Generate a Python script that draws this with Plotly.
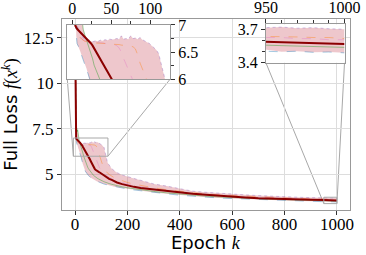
import numpy as np
import plotly.graph_objects as go

# ---------------- data ----------------
epochs = [0, 1, 2, 3, 4, 5, 6,
          8, 10, 12, 14, 16, 18, 20, 22, 24, 26, 28, 30,
          33, 36, 39, 42, 45, 48, 51, 54, 57, 60, 63, 66, 69, 72, 75, 78,
          81, 84, 87, 90, 93, 96, 99, 102, 105, 108, 111, 114, 117, 120, 123, 126,
          130, 140, 150, 160, 180, 200, 225, 250,
          300, 350, 400, 450, 500, 550, 600, 650, 700, 750, 800, 850, 900,
          950, 960, 970, 980, 990, 1000]

loss_run_blue = [13.05, 9.8, 8.2, 7.4, 7.0, 6.8, 6.66,
                 6.6, 6.52, 6.44, 6.37, 6.3, 6.21, 6.11, 6.02, 5.9, 5.77, 5.64, 5.53,
                 5.4, 5.28, 5.18, 5.1, 5.03, 4.98, 4.94, 4.9, 4.86, 4.82, 4.79, 4.76, 4.73, 4.7, 4.68, 4.66,
                 4.64, 4.62, 4.6, 4.58, 4.56, 4.55, 4.53, 4.52, 4.5, 4.49, 4.47, 4.46, 4.45, 4.43, 4.42, 4.41,
                 4.4, 4.36, 4.33, 4.3, 4.25, 4.2, 4.15, 4.1,
                 4.01, 3.94, 3.86, 3.8, 3.75, 3.71, 3.68, 3.65, 3.62, 3.6, 3.57, 3.55, 3.53,
                 3.51, 3.50, 3.505, 3.495, 3.498, 3.49]

loss_run_green = [13.05, 10.8, 9.2, 8.0, 7.6, 7.4, 7.55,
                  7.35, 7.45, 7.15, 6.92, 6.82, 6.74, 6.66, 6.58, 6.48, 6.38, 6.26, 6.16,
                  6.0, 5.85, 5.72, 5.6, 5.5, 5.4, 5.32, 5.25, 5.18, 5.12, 5.06, 5.01, 4.97, 4.93, 4.89, 4.86,
                  4.83, 4.8, 4.77, 4.75, 4.72, 4.7, 4.68, 4.66, 4.64, 4.62, 4.6, 4.58, 4.56, 4.55, 4.53, 4.52,
                  4.5, 4.46, 4.42, 4.38, 4.32, 4.27, 4.21, 4.17,
                  4.07, 3.99, 3.92, 3.86, 3.81, 3.77, 3.73, 3.7, 3.67, 3.64, 3.62, 3.6, 3.58,
                  3.56, 3.555, 3.55, 3.548, 3.545, 3.54]

loss_run_pink = [13.05, 10.3, 8.5, 7.6, 7.2, 7.0, 6.9,
                 6.82, 6.78, 6.75, 6.72, 6.71, 6.7, 6.69, 6.69, 6.68, 6.68, 6.68, 6.67,
                 6.68, 6.67, 6.67, 6.66, 6.66, 6.66, 6.65, 6.64, 6.62, 6.58, 6.5, 6.38, 6.25, 6.14, 6.03, 5.92,
                 5.8, 5.68, 5.57, 5.47, 5.38, 5.3, 5.23, 5.17, 5.12, 5.07, 5.03, 4.99, 4.95, 4.92, 4.89, 4.86,
                 4.83, 4.76, 4.7, 4.65, 4.56, 4.48, 4.4, 4.33,
                 4.22, 4.12, 4.04, 3.97, 3.91, 3.86, 3.82, 3.78, 3.75, 3.72, 3.7, 3.67, 3.65,
                 3.63, 3.63, 3.62, 3.62, 3.61, 3.61]

loss_run_orange = [13.05, 10.0, 8.4, 7.5, 7.1, 6.95, 6.88,
                   6.8, 6.76, 6.74, 6.72, 6.7, 6.7, 6.69, 6.68, 6.68, 6.67, 6.67, 6.67,
                   6.66, 6.66, 6.66, 6.66, 6.65, 6.65, 6.65, 6.64, 6.64, 6.64, 6.63, 6.63, 6.62, 6.62, 6.61, 6.6,
                   6.56, 6.45, 6.3, 6.15, 6.0, 5.86, 5.72, 5.6, 5.49, 5.4, 5.32, 5.25, 5.19, 5.13, 5.08, 5.04,
                   5.0, 4.9, 4.82, 4.76, 4.65, 4.56, 4.47, 4.39,
                   4.27, 4.16, 4.07, 3.99, 3.93, 3.88, 3.84, 3.8, 3.76, 3.73, 3.71, 3.68, 3.66,
                   3.64, 3.64, 3.635, 3.63, 3.63, 3.62]

loss_run_purple = [13.05, 10.5, 8.9, 7.9, 7.4, 7.15, 7.0,
                   6.9, 6.85, 6.8, 6.76, 6.74, 6.72, 6.71, 6.72, 6.7, 6.69, 6.7, 6.71,
                   6.7, 6.72, 6.71, 6.73, 6.72, 6.74, 6.73, 6.74, 6.75, 6.74, 6.8, 6.74, 6.75, 6.74, 6.8, 6.75,
                   6.76, 6.74, 6.77, 6.73, 6.71, 6.69, 6.66, 6.62, 6.58, 6.54, 6.47, 6.25, 6.0, 5.82, 5.7, 5.6,
                   5.5, 5.32, 5.2, 5.1, 4.97, 4.9, 4.78, 4.68,
                   4.48, 4.36, 4.2, 4.08, 4.02, 3.96, 3.92, 3.88, 3.84, 3.8, 3.77, 3.75, 3.73,
                   3.72, 3.725, 3.715, 3.72, 3.71, 3.705]

loss_mean = [13.05, 9.6, 7.7, 7.05, 6.98, 6.95, 6.93,
             6.9, 6.87, 6.85, 6.82, 6.79, 6.76, 6.73, 6.7, 6.66, 6.62, 6.57, 6.51,
             6.44, 6.36, 6.29, 6.22, 6.15, 6.07, 6.0, 5.92, 5.82, 5.72, 5.62, 5.52, 5.44, 5.37, 5.31, 5.26,
             5.22, 5.19, 5.16, 5.14, 5.12, 5.09, 5.05, 5.01, 4.97, 4.94, 4.91, 4.88, 4.85, 4.83, 4.81, 4.78,
             4.76, 4.7, 4.63, 4.56, 4.47, 4.39, 4.32, 4.26,
             4.17, 4.1, 4.01, 3.94, 3.88, 3.82, 3.78, 3.74, 3.7, 3.67, 3.65, 3.63, 3.61,
             3.595, 3.59, 3.585, 3.58, 3.575, 3.57]

main_xticks = [0, 200, 400, 600, 800, 1000]
main_yticks = [5, 7.5, 10, 12.5]
main_yticklabels = ["5", "7.5", "10", "12.5"]
inset1_xticks = [0, 50, 100]
inset1_xminor = [25, 75]
inset1_yticks = [6, 6.5, 7]
inset1_yticklabels = ["6", "6.5", "7"]
inset1_yminor = [6.25, 6.75]
inset2_xticks = [950, 1000]
inset2_xminor = [960, 970, 980, 990]
inset2_yticks = [3.4, 3.7]
inset2_yminor = [3.5, 3.6]

# ---------------- styles ----------------
runs = [
    (loss_run_blue, "rgba(31,119,180,0.4)", "dash"),
    (loss_run_green, "rgba(44,160,44,0.45)", "solid"),
    (loss_run_pink, "rgba(227,119,194,0.4)", "dash"),
    (loss_run_orange, "rgba(255,127,14,0.4)", "dash"),
    (loss_run_purple, "rgba(148,103,189,0.4)", "dot"),
]
runs_arr = np.array([r[0] for r in runs])
band_low = runs_arr.min(axis=0)
band_high = runs_arr.max(axis=0)

main_xr = [-50, 1050]
main_yr = [3.05, 13.53]
ins1_xr = [-6.5, 125.5]
ins1_yr = [6.0, 7.0]
ins2_xr = [950, 1000]
ins2_yr = [3.4, 3.75]

ins1_dom_x = [0.0184, 0.375]
ins1_dom_y = [0.684, 0.9686]
ins2_dom_x = [0.708, 0.981]
ins2_dom_y = [0.771, 0.972]

SERIF = "Liberation Serif, DejaVu Serif, serif"
SANS = "DejaVu Sans"
AXCOL = "#999999"

fig = go.Figure()
for sub in ["", "2", "3"]:
    xa, ya = "x" + sub, "y" + sub
    fig.add_trace(go.Scatter(
        x=epochs + epochs[::-1],
        y=list(band_high) + list(band_low[::-1]),
        fill="toself", fillcolor="rgba(200,70,85,0.3)",
        line=dict(width=0), mode="lines", xaxis=xa, yaxis=ya,
        hoverinfo="skip", showlegend=False))
    for vals, col, dash in runs:
        fig.add_trace(go.Scatter(
            x=epochs, y=vals, mode="lines",
            line=dict(color=col, width=1, dash=dash),
            xaxis=xa, yaxis=ya, showlegend=False))
    fig.add_trace(go.Scatter(
        x=epochs, y=loss_mean, mode="lines",
        line=dict(color="#8b0000", width=2),
        xaxis=xa, yaxis=ya, showlegend=False))

tick_font = dict(family=SERIF, size=17, color="black")
tick_font_small = dict(family=SERIF, size=16, color="black")

common = dict(showline=True, mirror=True, linecolor=AXCOL, linewidth=1,
              ticks="outside", ticklen=4, tickcolor="#333333", zeroline=False,
              automargin=False)


def minor(vals):
    return dict(tickmode="array", tickvals=vals, ticks="outside", ticklen=3,
                tickcolor="#333333", showgrid=False)


fig.update_layout(
    template="none",
    width=366, height=255,
    margin=dict(l=62, r=16, t=19, b=45, pad=0),
    paper_bgcolor="white", plot_bgcolor="white",
    showlegend=False,
    font=dict(family=SERIF, size=17, color="black"),
    xaxis=dict(domain=[0, 1], range=main_xr, tickmode="array", tickvals=main_xticks,
               tickfont=tick_font, showgrid=True, gridcolor="#dddddd",
               gridwidth=1, anchor="y", ticklabelstandoff=-5, **common),
    yaxis=dict(domain=[0, 1], range=main_yr, tickmode="array", tickvals=main_yticks,
               ticktext=main_yticklabels, tickfont=tick_font,
               showgrid=True, gridcolor="#dddddd", gridwidth=1, anchor="x", **common),
    xaxis2=dict(domain=ins1_dom_x, range=ins1_xr, tickmode="array", tickvals=inset1_xticks,
                minor=minor(inset1_xminor), side="top", anchor="y2",
                tickfont=tick_font_small, showgrid=False, **common),
    yaxis2=dict(domain=ins1_dom_y, range=ins1_yr, tickmode="array", tickvals=inset1_yticks,
                ticktext=inset1_yticklabels, minor=minor(inset1_yminor),
                side="right", anchor="x2",
                tickfont=tick_font_small, showgrid=False, **common),
    xaxis3=dict(domain=ins2_dom_x, range=ins2_xr, tickmode="array", tickvals=inset2_xticks,
                minor=minor(inset2_xminor), side="top", anchor="y3",
                tickfont=tick_font_small, showgrid=False, **common),
    yaxis3=dict(domain=ins2_dom_y, range=ins2_yr, tickmode="array", tickvals=inset2_yticks,
                minor=minor(inset2_yminor), side="left", anchor="x3",
                tickfont=tick_font_small, showgrid=False, **common),
)

# axis titles
fig.add_annotation(
    text="Epoch <span style='font-family:Liberation Serif'><i>k</i></span>",
    xref="paper", yref="paper", x=0.5, y=-0.17, xanchor="center", yanchor="middle",
    showarrow=False, font=dict(family=SANS, size=18, color="black"))
fig.add_annotation(
    text="Full Loss <span style='font-family:Liberation Serif'><i>f</i>(<i>x</i><sup><i>k</i></sup>)</span>",
    xref="paper", yref="paper", x=-0.18, y=0.5, xanchor="center", yanchor="middle",
    textangle=-90, showarrow=False, font=dict(family=SANS, size=18, color="black"))


def to_paper(x, y):
    return ((x - main_xr[0]) / (main_xr[1] - main_xr[0]),
            (y - main_yr[0]) / (main_yr[1] - main_yr[0]))


line_style = dict(color="#a8a8a8", width=1)
for xr, yr, dx, dy in [(ins1_xr, ins1_yr, ins1_dom_x, ins1_dom_y),
                       (ins2_xr, ins2_yr, ins2_dom_x, ins2_dom_y)]:
    fig.add_shape(type="rect", xref="x", yref="y", x0=xr[0], x1=xr[1],
                  y0=yr[0], y1=yr[1], line=line_style, layer="above")
    bl = to_paper(xr[0], yr[0])
    br = to_paper(xr[1], yr[0])
    fig.add_shape(type="line", xref="paper", yref="paper",
                  x0=dx[0], y0=dy[0], x1=bl[0], y1=bl[1], line=line_style, layer="below")
    fig.add_shape(type="line", xref="paper", yref="paper",
                  x0=dx[1], y0=dy[0], x1=br[0], y1=br[1], line=line_style, layer="below")

fig.write_html(
    "out.html",
    config={"displayModeBar": False},
    post_script="document.body.style.margin='0';document.body.style.padding='0';"
                "document.body.style.overflow='hidden';",
)
